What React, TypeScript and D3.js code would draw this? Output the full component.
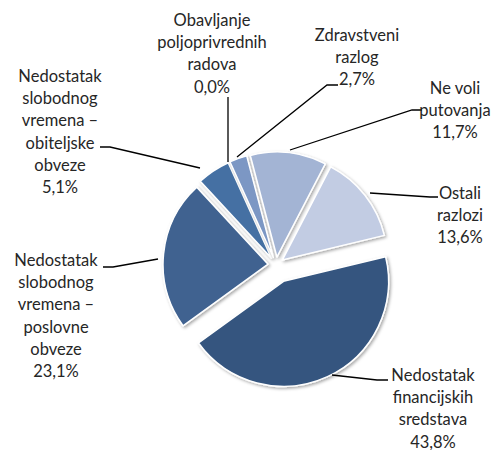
import { useEffect, useRef } from 'react'
import * as d3 from 'd3'

const W = 501
const H = 450

// data (Excel order, first slice rotated to ~76deg)
const categories = [
    'Nedostatak financijskih sredstava',
    'Nedostatak slobodnog vremena – poslovne obveze',
    'Nedostatak slobodnog vremena – obiteljske obveze',
    'Obavljanje poljoprivrednih radova',
    'Zdravstveni razlog',
    'Ne voli putovanja',
    'Ostali razlozi',
]
const values = [43.8, 23.1, 5.1, 0.0, 2.7, 11.7, 13.6]
const labelLines = [
    ['Nedostatak', 'financijskih', 'sredstava', '43,8%'],
    ['Nedostatak', 'slobodnog', 'vremena –', 'poslovne', 'obveze', '23,1%'],
    ['Nedostatak', 'slobodnog', 'vremena –', 'obiteljske', 'obveze', '5,1%'],
    ['Obavljanje', 'poljoprivrednih', 'radova', '0,0%'],
    ['Zdravstveni', 'razlog', '2,7%'],
    ['Ne voli', 'putovanja', '11,7%'],
    ['Ostali', 'razlozi', '13,6%'],
]
const colors = ['#34557f', '#3f6290', '#4470a3', '#5a80b4', '#7b97c4', '#a3b4d4', '#c2cce3']

/* hand placed label boxes and leader lines, like Excel does */
const labelPos = [
    { x: 433, y: 375 },
    { x: 56, y: 260 },
    { x: 60, y: 76 },
    { x: 212, y: 20 },
    { x: 357, y: 35 },
    { x: 455, y: 88 },
    { x: 460, y: 193 },
]
const leaders = [
    'M 332 375 L 377 380 L 388 380',
    'M 158 259 L 113 267 L 103 267',
    'M 200 168 L 110 147 L 100 147',
    'M 228 162 L 228 97',
    'M 237 157 L 327 85 L 338 85',
    'M 290 150 L 412 110 L 422 110',
    'M 370 193 L 430 197 L 438 197',
]

export default function App() {
    const svgRef = useRef<SVGSVGElement | null>(null)

    useEffect(() => {
        const svg = d3.select(svgRef.current)
        svg.selectAll('*').remove()

        const cx = 276
        const cy = 265
        const r = 105
        const rot = (76.4 * Math.PI) / 180

        const defs = svg.append('defs')
        const f = defs.append('filter').attr('id', 'shadow')
            .attr('x', '-20%').attr('y', '-20%').attr('width', '140%').attr('height', '140%')
        f.append('feDropShadow').attr('dx', 1.5).attr('dy', 1.5).attr('stdDeviation', 1.5)
            .attr('flood-color', '#000').attr('flood-opacity', 0.35)

        const pie = d3.pie<number>().sort(null).value((d) => d)
            .startAngle(rot).endAngle(rot + Math.PI * 2)
        const arcs = pie(values)
        const arc = d3.arc<d3.PieArcDatum<number>>().innerRadius(0).outerRadius(r)

        const g = svg.append('g').attr('transform', `translate(${cx},${cy})`)
        g.selectAll('path.slice')
            .data(arcs.filter((a) => a.value > 0))
            .enter()
            .append('path')
            .attr('class', 'slice')
            .attr('d', arc)
            .attr('transform', (d) => {
                const mid = (d.startAngle + d.endAngle) / 2
                const off = d.index === 0 ? 18 : 8
                return `translate(${Math.sin(mid) * off},${-Math.cos(mid) * off})`
            })
            .attr('fill', (d) => colors[d.index])
            .attr('stroke', '#fff')
            .attr('stroke-width', 1.5)
            .attr('stroke-linejoin', 'round')
            .attr('filter', 'url(#shadow)')

        svg.selectAll('path.leader')
            .data(leaders)
            .enter()
            .append('path')
            .attr('class', 'leader')
            .attr('d', (d) => d)
            .attr('fill', 'none')
            .attr('stroke', '#000')
            .attr('stroke-width', 1.3)

        labelLines.forEach((lines, i) => {
            const t = svg.append('text')
                .attr('text-anchor', 'middle')
                .attr('font-family', 'Lato, sans-serif')
                .attr('font-size', '16.5px')
                .attr('fill', '#262626')
                .attr('aria-label', categories[i])
            lines.forEach((ln, j) => {
                t.append('tspan')
                    .attr('x', labelPos[i].x)
                    .attr('y', labelPos[i].y + j * 22.3)
                    .attr('dy', '0.35em')
                    .text(ln)
            })
        })
    }, [])

    return (
        <svg ref={svgRef} width={W} height={H} style={{ position: 'absolute', left: 0, top: 0, background: '#fff' }} />
    )
}
